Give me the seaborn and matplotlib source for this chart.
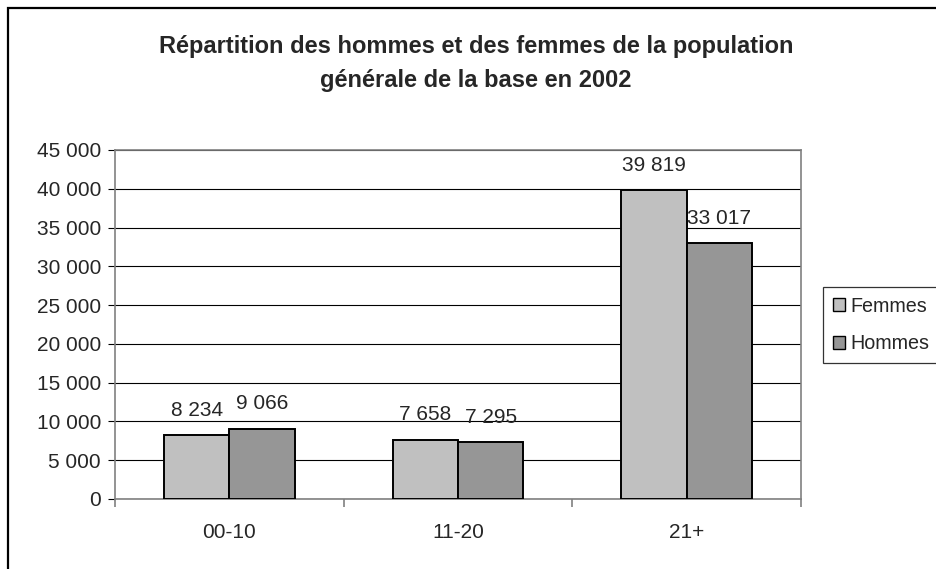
import matplotlib
matplotlib.use("Agg")
import matplotlib.pyplot as plt
import seaborn as sns
import pandas as pd
from matplotlib.patches import Rectangle, Patch
from matplotlib.ticker import FuncFormatter, FixedLocator

categories = ["00-10", "11-20", "21+"]
femmes = [8234, 7658, 39819]
hommes = [9066, 7295, 33017]
series = ["Femmes", "Hommes"]
yticks = [0, 5000, 10000, 15000, 20000, 25000, 30000, 35000, 40000, 45000]
title = "Répartition des hommes et des femmes de la population\ngénérale de la base en 2002"

colors = {"Femmes": "#C0C0C0", "Hommes": "#969696"}

df = pd.DataFrame({
    "cat": categories * 2,
    "serie": [series[0]] * len(categories) + [series[1]] * len(categories),
    "val": femmes + hommes,
})

sns.set_style("white")
plt.rcParams["font.family"] = ["Liberation Sans", "DejaVu Sans"]

W, H = 937, 569
fig = plt.figure(figsize=(W / 100, H / 100), dpi=100)
ax = fig.add_axes([115 / W, 1 - 499 / H, (801 - 115) / W, (499 - 150) / H])

sns.barplot(data=df, x="cat", y="val", hue="serie", palette=colors,
            width=0.57, edgecolor="black", linewidth=1.4, saturation=1,
            ax=ax, legend=False, zorder=3)

def fmt(v):
    return f"{int(round(v)):,}".replace(",", " ")

FS = 15
for cont in ax.containers:
    ax.bar_label(cont, labels=[fmt(b.get_height()) for b in cont],
                 padding=11, fontsize=FS, zorder=4)

ax.set_ylim(0, 45000)
ax.set_xlim(-0.5, len(categories) - 0.5)
ax.set_yticks(yticks)
ax.yaxis.set_major_formatter(FuncFormatter(lambda v, p: fmt(v)))
ax.grid(axis="y", color="black", linewidth=0.8, zorder=0)
ax.set_axisbelow(True)
ax.set_xlabel("")
ax.set_ylabel("")

for s in ax.spines.values():
    s.set_color("#808080")
    s.set_linewidth(1.2)
    s.set_visible(True)

ax.tick_params(axis="y", direction="out", length=5, width=0.8, color="black",
               labelsize=FS, pad=5, left=True)
ax.tick_params(axis="x", which="major", length=0, labelsize=FS, pad=17)
ax.xaxis.set_minor_locator(FixedLocator([-0.5, 0.5, 1.5, 2.5]))
ax.tick_params(axis="x", which="minor", direction="out", length=6, width=1.2,
               color="#808080", bottom=True)

handles = [Patch(facecolor=colors[s], edgecolor="black", linewidth=1.0, label=s) for s in series]
leg = fig.legend(handles=handles, loc="center left",
                 bbox_to_anchor=(823 / W, 1 - 325 / H), fontsize=14.2,
                 frameon=True, fancybox=False, handlelength=0.6, handleheight=0.6,
                 handletextpad=0.3, borderpad=0.5, labelspacing=0.95,
                 borderaxespad=0)
leg.get_frame().set_edgecolor("black")
leg.get_frame().set_linewidth(0.9)

fig.text(476 / W, 1 - 63.5 / H, title, ha="center", va="center",
         fontsize=17, fontweight="bold", linespacing=1.6)

fig.patches.append(Rectangle((8 / W, -0.05), 1.2, (1 - 8 / H) + 0.05,
                             transform=fig.transFigure, fill=False,
                             edgecolor="black", linewidth=1.6, zorder=10))

fig.savefig("out.png", dpi=100)
